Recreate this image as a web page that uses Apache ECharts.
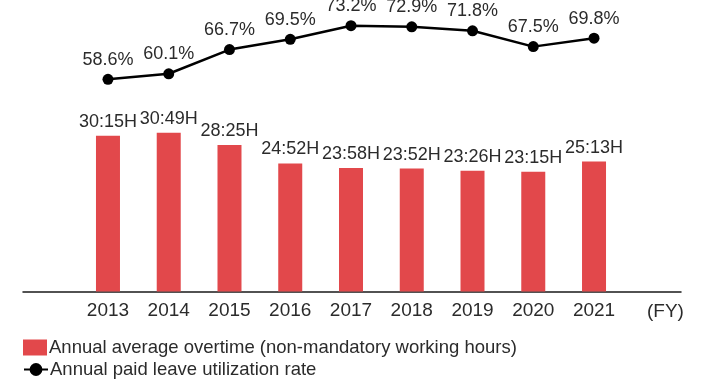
<!DOCTYPE html>
<html>
<head>
<meta charset="utf-8">
<script src="https://cdn.jsdelivr.net/npm/echarts@6/dist/echarts.min.js"></script>
<style>
  html, body { margin: 0; padding: 0; background: #fff; }
  #chart { width: 715px; height: 380px; }
</style>
</head>
<body>
<div id="chart"></div>
<script>
// Fiscal years on the horizontal axis
const years = ['2013', '2014', '2015', '2016', '2017', '2018', '2019', '2020', '2021'];
// Annual average overtime, hours:minutes
const overtime = ['30:15', '30:49', '28:25', '24:52', '23:58', '23:52', '23:26', '23:15', '25:13'];
// Annual paid leave utilization rate, percent
const leaveRate = [58.6, 60.1, 66.7, 69.5, 73.2, 72.9, 71.8, 67.5, 69.8];

const seriesNames = [
  'Annual average overtime (non-mandatory working hours)',
  'Annual paid leave utilization rate'
];

const FONT = 'Liberation Sans';
const TEXT = '#2b2b2b';

// "H:MM" -> decimal hours for the bar height
function toHours(s) {
  const [h, m] = s.split(':').map(Number);
  return h + m / 60;
}

const barData = overtime.map((t) => ({ value: toHours(t), text: t }));

const legendBase = {
  orient: 'horizontal',
  left: 23,
  padding: 0,
  itemWidth: 24,
  itemHeight: 16,
  textStyle: { fontFamily: FONT, fontSize: 18.5, color: TEXT, padding: [0, 0, 0, -3] }
};

const chart = echarts.init(document.getElementById('chart'), null, { renderer: 'canvas' });

chart.setOption({
  animation: false,
  textStyle: { fontFamily: FONT, color: TEXT },
  grid: [
    { left: 77.6, right: 90.6, top: 20, bottom: 88.5 },
    // wider frame only used for the baseline
    { left: 23, right: 34, top: 20, bottom: 88.5 }
  ],
  xAxis: [
    {
      type: 'category',
      gridIndex: 0,
      data: years,
      axisLine: { show: false },
      axisTick: { show: false },
      axisLabel: { fontFamily: FONT, fontSize: 19, color: TEXT, margin: 10 },
      name: '(FY)',
      nameLocation: 'end',
      nameGap: 22.6,
      nameTextStyle: {
        fontFamily: FONT, fontSize: 19, color: TEXT,
        verticalAlign: 'top', lineHeight: 40
      }
    },
    {
      type: 'value',
      gridIndex: 1,
      min: 0,
      max: 1,
      axisLine: { show: true, lineStyle: { color: '#1a1a1a', width: 1.5 } },
      axisTick: { show: false },
      axisLabel: { show: false },
      splitLine: { show: false }
    }
  ],
  yAxis: [
    { type: 'value', gridIndex: 0, min: 0, max: 52.7, show: false },
    { type: 'value', gridIndex: 0, min: 0.8, max: 74.75, show: false },
    { type: 'value', gridIndex: 1, min: 0, max: 1, show: false }
  ],
  legend: [
    Object.assign({}, legendBase, { top: 338, data: [{ name: seriesNames[0], icon: 'rect' }] }),
    Object.assign({}, legendBase, { top: 360, data: [{ name: seriesNames[1] }] })
  ],
  series: [
    {
      name: seriesNames[0],
      type: 'bar',
      xAxisIndex: 0,
      yAxisIndex: 0,
      barWidth: 24,
      data: barData,
      itemStyle: { color: '#e2484b' },
      label: {
        show: true,
        position: 'top',
        distance: 5,
        fontFamily: FONT,
        fontSize: 18,
        color: TEXT,
        formatter: (p) => p.data.text + 'H'
      }
    },
    {
      name: seriesNames[1],
      type: 'line',
      xAxisIndex: 0,
      yAxisIndex: 1,
      clip: false,
      data: leaveRate,
      symbol: 'circle',
      symbolSize: 11,
      lineStyle: { color: '#000', width: 2.5 },
      itemStyle: { color: '#000' },
      label: {
        show: true,
        position: 'top',
        distance: 5,
        fontFamily: FONT,
        fontSize: 18,
        color: TEXT,
        formatter: (p) => p.value.toFixed(1) + '%'
      }
    }
  ]
});
</script>
</body>
</html>
